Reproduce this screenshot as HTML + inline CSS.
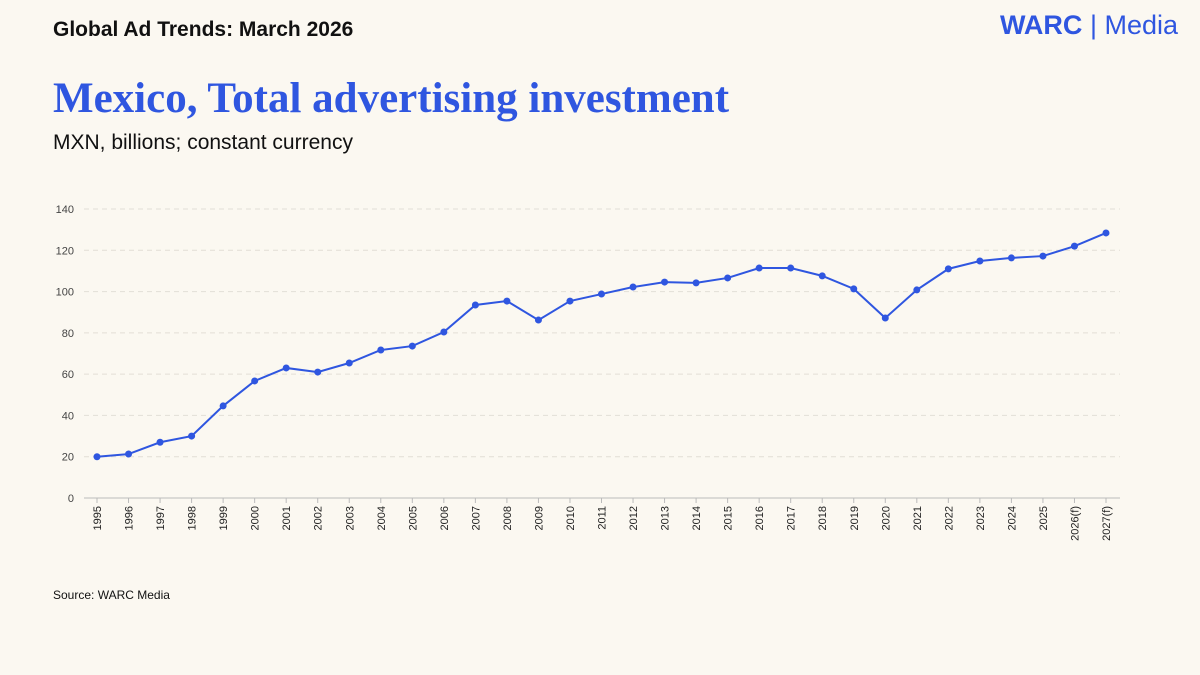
<!DOCTYPE html>
<html><head><meta charset="utf-8"><style>
body{margin:0;background:#fbf8f1;width:1200px;height:675px;overflow:hidden;font-family:"Liberation Sans",sans-serif;position:relative}
.t{position:absolute;white-space:nowrap}
</style></head><body>
<div class="t" style="left:53px;top:18px;font-size:21px;font-weight:bold;color:#111">Global Ad Trends: March 2026</div>
<div class="t" style="right:22px;top:10px;font-size:27px;color:#2f56e0"><b>WARC</b> | Media</div>
<div class="t" style="left:53px;top:74px;font-family:'Liberation Serif',serif;font-size:43px;font-weight:bold;color:#2f56e0">Mexico, Total advertising investment</div>
<div class="t" style="left:53px;top:131px;font-size:21px;color:#111">MXN, billions; constant currency</div>
<div class="t" style="left:53px;top:588px;font-size:12px;color:#111">Source: WARC Media</div>
<svg id="c" width="1200" height="675" style="position:absolute;left:0;top:0"></svg>
<script>
const categories=["1995","1996","1997","1998","1999","2000","2001","2002","2003","2004","2005","2006","2007","2008","2009","2010","2011","2012","2013","2014","2015","2016","2017","2018","2019","2020","2021","2022","2023","2024","2025","2026(f)","2027(f)"];
const values=[20,21.3,27,30,44.6,56.7,63,61,65.4,71.7,73.6,80.4,93.5,95.4,86.2,95.4,98.8,102.2,104.6,104.2,106.6,111.4,111.4,107.6,101.3,87.2,100.8,111,114.8,116.3,117.2,122,128.4];
const yTicks=[0,20,40,60,80,100,120,140];
const svg=document.getElementById('c');const NS='http://www.w3.org/2000/svg';
const x=i=>97+i*(1106-97)/(categories.length-1);
const y=v=>498-v*(498-209)/140;
function mk(t,a){const e=document.createElementNS(NS,t);for(const k in a)e.setAttribute(k,a[k]);svg.appendChild(e);return e;}
yTicks.forEach(v=>{
 if(v>0){const g=mk('line',{x1:84,x2:1120,y1:y(v),y2:y(v),stroke:'#e2ded6','stroke-dasharray':'5,4'});
 
 }
 const t=mk('text',{x:74,y:y(v)+4,'text-anchor':'end','font-size':11,fill:'#444'});t.textContent=v;
 
 
});
const ax=mk('line',{x1:84,x2:1120,y1:498,y2:498,stroke:'#bbb'});


categories.forEach((c,i)=>{
 const tk=mk('line',{x1:x(i),x2:x(i),y1:498,y2:503,stroke:'#bbb'});
 
 
 const t=mk('text',{transform:`translate(${x(i)+4},506) rotate(-90)`,'text-anchor':'end','font-size':11,fill:'#222'});t.textContent=c;
 
 
});
const p=mk('polyline',{points:values.map((v,i)=>x(i)+','+y(v)).join(' '),fill:'none',stroke:'#2f56e0','stroke-width':2});


values.forEach((v,i)=>{const d=mk('circle',{cx:x(i),cy:y(v),r:3.5,fill:'#2f56e0'});
 
 });
</script>
</body></html>
